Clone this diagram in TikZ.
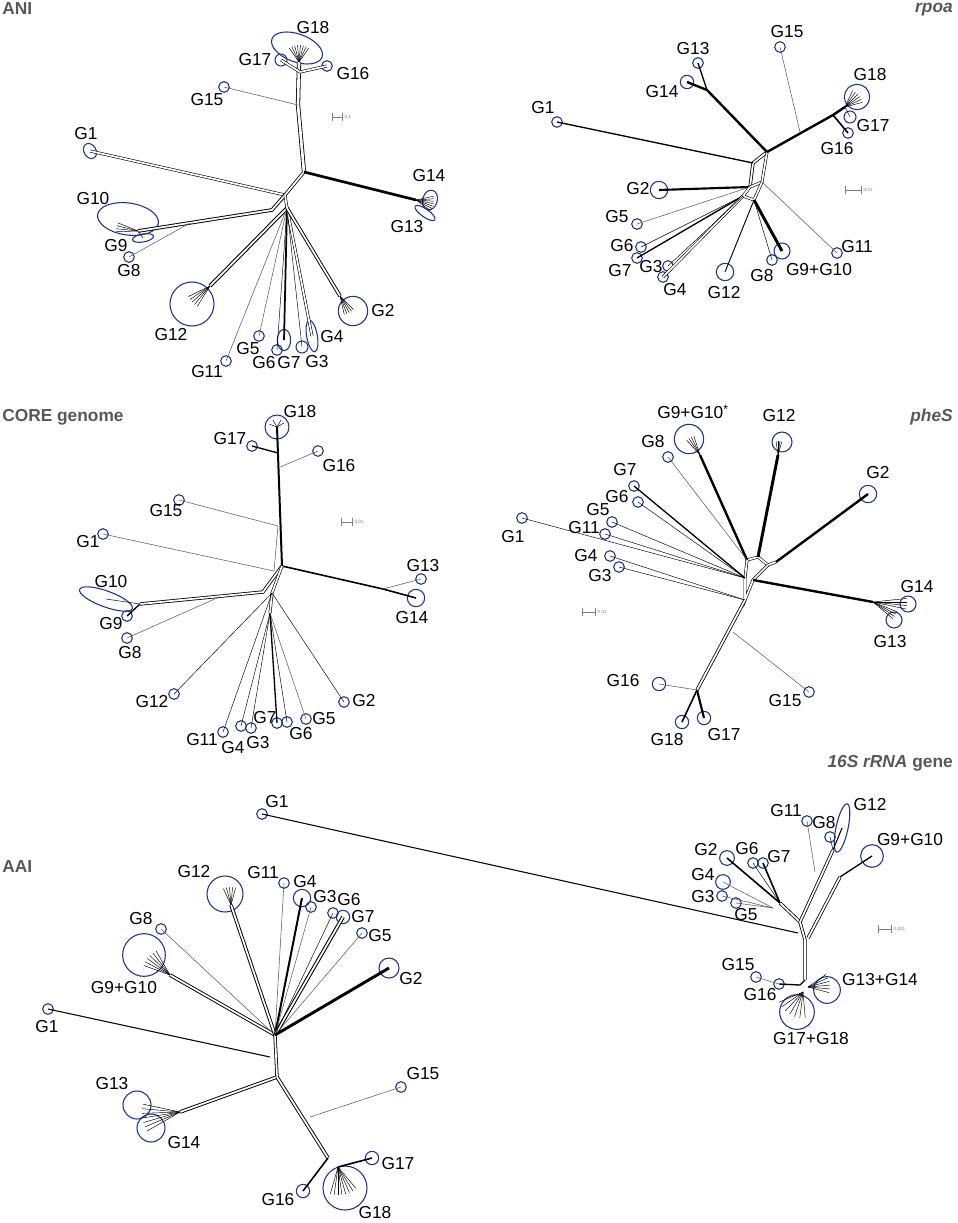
\documentclass[tikz,border=0pt]{standalone}
\usepackage{fontspec}
\setmainfont{Liberation Sans}
\usetikzlibrary{shapes.geometric}
\definecolor{tipblue}{RGB}{28,52,138}
\definecolor{ttlgray}{RGB}{88,88,88}

\begin{document}
\begin{tikzpicture}[x=0.75pt,y=0.75pt,yscale=-1,xscale=1,
  leaf/.style={circle,draw=tipblue,line width=0.8pt,inner sep=0pt,minimum size=#1},
  leaf/.default=8pt,
  oval/.style={ellipse,draw=tipblue,line width=0.8pt,inner sep=0pt},
  lab/.style={font=\fontsize{13}{15}\selectfont,inner sep=0pt},
  ttl/.style={font=\fontsize{13}{15}\selectfont\bfseries,text=ttlgray,inner sep=0pt},
  wire/.style={draw=black!65,line width=0.4pt},
  pair/.style={draw=black,line width=0.45pt,double=white,double distance=1.3pt},
  heavy/.style={draw=black,line width=1.5pt},
  twig/.style={draw=black,line width=0.35pt},
  bar/.style={draw=black!50,line width=0.4pt,|-|},
  tiny/.style={font=\fontsize{3.5}{4}\selectfont,text=black!50,inner sep=1pt}]
\useasboundingbox (0,0) rectangle (957,1223);

%%%%%%%%%%%%%%%%%%%% ANI
\node[ttl,anchor=west] (tani) at (2,9) {ANI};
\coordinate (aT) at (299,62);
\coordinate (aQ) at (300,72);
\coordinate (aS) at (298,105);
\coordinate (aH) at (304,172);
\coordinate (aC) at (285,195);
\coordinate (aL) at (272,210);
\coordinate (aB) at (287,208);
\coordinate (aK) at (416,200);
\coordinate (aW) at (138,231);
\coordinate (aE) at (190,223);
\coordinate (aG) at (210,286);
\coordinate (aR) at (340,296);

% tips
\node[oval,minimum width=40pt,minimum height=21pt,rotate=-20] (a18) at (297,48) {};
\node[leaf=9pt] (a17) at (281,60) {};
\node[leaf] (a16) at (327,66) {};
\node[leaf] (a15) at (224,87) {};
\node[oval,minimum width=9pt,minimum height=12pt,rotate=30] (a1) at (90,151) {};
\node[oval,minimum width=11pt,minimum height=15pt,rotate=-15] (a14) at (430,200) {};
\node[oval,minimum width=18pt,minimum height=6pt,rotate=-35] (a13) at (425,213) {};
\node[oval,minimum width=46pt,minimum height=24pt,rotate=-8] (a10) at (128,219) {};
\node[oval,minimum width=16pt,minimum height=6pt,rotate=10] (a9) at (143,238) {};
\node[leaf] (a8) at (129,257) {};
\node[leaf=33pt] (a12) at (192,304) {};
\node[leaf] (a11) at (226,361) {};
\node[leaf] (a5) at (259,336) {};
\node[leaf] (a6) at (277,350) {};
\node[oval,minimum width=10pt,minimum height=16pt] (a7) at (284,340) {};
\node[leaf=9pt] (a3) at (302,347) {};
\node[oval,minimum width=8pt,minimum height=24pt,rotate=10] (a4) at (312,336) {};
\node[leaf=22pt] (a2) at (353,311) {};

% branches
\draw[pair,line width=0.6pt] (aC) -- (aH);
\draw[pair,line width=0.6pt,double distance=2pt] (aH) -- (aS) -- (aT);
\foreach \a in {235,245,...,305} \draw[twig] (aT) -- +(\a:17);
\draw[pair] (aQ) -- (a17.center);
\draw[pair] (aQ) -- (a16.center);
\draw[wire] (aS) -- (a15.center);
\draw[pair] (aC) -- (a1.center);
\draw[heavy,line width=2pt] (aH) -- (aK);
\foreach \a in {-12,-4,...,36} \draw[twig] (aK) -- +(\a:18);
\draw[pair,line width=0.7pt] (aC) -- (aL) -- (aW);
\foreach \a in {178,186,...,202} \draw[twig] (aW) -- +(\a:22);
\draw[twig] (aW) -- (a9.center);
\draw[wire] (aE) -- (a8.center);
\draw[pair,line width=0.8pt] (aB) -- (aG);
\foreach \a in {122,130,...,154} \draw[twig] (aG) -- +(\a:24);
\draw[wire] (aB) -- (a11.center);
\draw[wire] (aB) -- (a5.center);
\draw[heavy,line width=1.3pt] (aB) -- (a7.center);
\draw[twig] (aB) -- (a6.center);
\draw[pair] (aB) -- (a4.center);
\draw[twig] (aB) -- (a3.center);
\draw[pair,line width=0.7pt] (aB) -- (aR);
\foreach \a in {45,53,...,77} \draw[twig] (aR) -- +(\a:19);
\draw[pair] (aC) -- (aB);

% labels
\node[lab] (la18) at (313,28) {G18};
\node[lab] (la17) at (255,60) {G17};
\node[lab] (la16) at (353,74) {G16};
\node[lab] (la15) at (207,100) {G15};
\node[lab] (la1) at (86,134) {G1};
\node[lab] (la14) at (429,176) {G14};
\node[lab] (la13) at (407,227) {G13};
\node[lab] (la10) at (93,199) {G10};
\node[lab] (la9) at (116,246) {G9};
\node[lab] (la8) at (129,271) {G8};
\node[lab] (la12) at (171,335) {G12};
\node[lab] (la5) at (248,349) {G5};
\node[lab] (la11) at (207,372) {G11};
\node[lab] (la6) at (264,363) {G6};
\node[lab] (la7) at (289,363) {G7};
\node[lab] (la3) at (317,362) {G3};
\node[lab] (la4) at (332,337) {G4};
\node[lab] (la2) at (383,311) {G2};
\coordinate (abar1) at (332,117);
\coordinate (abar2) at (343,117);
\draw[bar] (abar1) -- (abar2) node[tiny,right] (asc) {0.1};

%%%%%%%%%%%%%%%%%%%% rpoa
\node[ttl,anchor=east] (trpoa) at (953,10) {\itshape rpoa};
\coordinate (rH) at (767,152);
\coordinate (rM) at (753,163);
\coordinate (rL) at (750,187);
\coordinate (rJ) at (707,90);
\coordinate (rK) at (833,115);
\coordinate (rN) at (845,107);
\coordinate (rS) at (800,132);
\coordinate (rV) at (743,196);
\coordinate (rW) at (754,200);
\coordinate (rX) at (762,182);

\node[leaf] (r15) at (780,47) {};
\node[leaf] (r13) at (698,63) {};
\node[leaf=10pt] (r14) at (687,82) {};
\node[leaf=19pt] (r18) at (857,97) {};
\node[leaf=9pt] (r17) at (850,117) {};
\node[leaf] (r16) at (848,133) {};
\node[leaf] (r1) at (557,122) {};
\node[leaf=13pt] (r2) at (659,190) {};
\node[leaf] (r5) at (637,224) {};
\node[leaf] (r6) at (641,247) {};
\node[leaf] (r7) at (637,258) {};
\node[leaf] (r3) at (668,266) {};
\node[leaf] (r4) at (663,277) {};
\node[leaf=13pt] (r12) at (725,272) {};
\node[leaf] (r8) at (772,260) {};
\node[leaf=12pt] (r910) at (782,251) {};
\node[leaf] (r11) at (837,253) {};

\draw[pair,line width=0.6pt] (rL) -- (rM) -- (rH);
\draw[pair] (rL) -- (rX) -- (rH);
\draw[heavy,line width=1.8pt] (rH) -- (rJ) -- (r14.center);
\draw[heavy,line width=1pt] (rJ) -- (r13.center);
\draw[heavy,line width=1.8pt] (rH) -- (rK) -- (rN);
\foreach \a in {295,305,...,345} \draw[twig] (rN) -- +(\a:18);
\draw[heavy,line width=1.2pt] (rK) -- (r16.center);
\draw[twig] (rN) -- (r17.center);
\draw[wire] (rS) -- (r15.center);
\draw[heavy,line width=1pt] (rM) -- (r1.center);
\draw[heavy,line width=1.6pt] (rL) -- (r2.center);
\draw[wire] (rL) -- (r5.center);
\draw[pair] (rL) -- (rV) -- (rW) -- (rX);
\draw[heavy,line width=1pt] (rV) -- (r7.center);
\draw[twig] (rV) -- (r6.center);
\draw[pair] (rV) -- (r4.center);
\draw[twig] (rV) -- (r3.center);
\draw[heavy,line width=0.7pt] (rW) -- (r12.center);
\draw[heavy,line width=2.2pt] (rW) -- (r910.center);
\draw[twig] (rW) -- (r8.center);
\draw[wire] (rX) -- (r11.center);

\node[lab] (lr15) at (787,32) {G15};
\node[lab] (lr13) at (693,49) {G13};
\node[lab] (lr14) at (662,92) {G14};
\node[lab] (lr18) at (870,75) {G18};
\node[lab] (lr17) at (873,126) {G17};
\node[lab] (lr16) at (837,149) {G16};
\node[lab] (lr1) at (543,108) {G1};
\node[lab] (lr2) at (638,189) {G2};
\node[lab] (lr5) at (617,217) {G5};
\node[lab] (lr6) at (622,246) {G6};
\node[lab] (lr7) at (620,271) {G7};
\node[lab] (lr3) at (651,267) {G3};
\node[lab] (lr4) at (675,290) {G4};
\node[lab] (lr12) at (724,293) {G12};
\node[lab] (lr8) at (762,276) {G8};
\node[lab] (lr910) at (819,270) {G9+G10};
\node[lab] (lr11) at (857,247) {G11};
\coordinate (rbar1) at (845,190);
\coordinate (rbar2) at (862,190);
\draw[bar] (rbar1) -- (rbar2) node[tiny,right] (rsc) {0.01};

%%%%%%%%%%%%%%%%%%%% CORE genome
\node[ttl,anchor=west] (tcore) at (2,417) {CORE genome};
\coordinate (cH) at (282,566);
\coordinate (cA) at (278,453);
\coordinate (cD) at (280,467);
\coordinate (cE) at (278,526);
\coordinate (cF) at (274,571);
\coordinate (cK) at (383,589);
\coordinate (cW) at (140,604);
\coordinate (cL) at (263,592);
\coordinate (cG) at (217,598);
\coordinate (cB) at (272,593);
\coordinate (cP) at (270,613);

\node[leaf=18pt] (c18) at (277,427) {};
\node[leaf] (c17) at (252,446) {};
\node[leaf] (c16) at (318,451) {};
\node[leaf] (c15) at (179,500) {};
\node[leaf] (c1) at (103,534) {};
\node[leaf] (c13) at (421,579) {};
\node[leaf=13pt] (c14) at (416,598) {};
\node[oval,minimum width=42pt,minimum height=12pt,rotate=-20] (c10) at (106,599) {};
\node[leaf] (c9) at (127,616) {};
\node[leaf] (c8) at (127,638) {};
\node[leaf] (c12) at (174,694) {};
\node[leaf] (c11) at (223,732) {};
\node[leaf] (c4) at (241,726) {};
\node[leaf] (c3) at (251,728) {};
\node[leaf] (c7) at (277,723) {};
\node[leaf] (c6) at (287,722) {};
\node[leaf] (c5) at (306,719) {};
\node[leaf] (c2) at (344,702) {};

\draw[heavy,line width=1.5pt] (cH) -- (c18.center);
\draw[wire] (cE) -- (cF);
\foreach \a in {200,240,300,330} \draw[twig] (c18.center) -- +(\a:8);
\draw[heavy,line width=1pt] (cA) -- (c17.center);
\draw[wire] (cD) -- (c16.center);
\draw[wire] (cE) -- (c15.center);
\draw[wire] (cF) -- (c1.center);
\draw[heavy,line width=1.2pt] (cH) -- (cK) -- (c14.center);
\draw[wire] (cK) -- (c13.center);
\draw[pair,line width=0.6pt] (cH) -- (cL) -- (cW);
\draw[heavy,line width=1pt] (cW) -- (c9.center);
\draw[twig] (cW) -- (c10.center);
\draw[wire] (cG) -- (c8.center);
\draw[pair] (cH) -- (cB) -- (cP);
\draw[twig] (cB) -- (c12.center);
\draw[twig] (cB) -- (c11.center);
\draw[twig] (cP) -- (c4.center);
\draw[twig] (cP) -- (c3.center);
\draw[heavy,line width=1pt] (cP) -- (c7.center);
\draw[twig] (cP) -- (c6.center);
\draw[wire] (cP) -- (c5.center);
\draw[twig] (cB) -- (c2.center);

\node[lab] (lc18) at (300,412) {G18};
\node[lab] (lc17) at (230,439) {G17};
\node[lab] (lc16) at (339,466) {G16};
\node[lab] (lc15) at (166,511) {G15};
\node[lab] (lc1) at (88,542) {G1};
\node[lab] (lc13) at (423,566) {G13};
\node[lab] (lc14) at (412,618) {G14};
\node[lab] (lc10) at (111,582) {G10};
\node[lab] (lc9) at (111,624) {G9};
\node[lab] (lc8) at (130,653) {G8};
\node[lab] (lc12) at (152,702) {G12};
\node[lab] (lc11) at (202,740) {G11};
\node[lab] (lc4) at (233,748) {G4};
\node[lab] (lc3) at (258,743) {G3};
\node[lab] (lc7) at (265,718) {G7};
\node[lab] (lc6) at (301,734) {G6};
\node[lab] (lc5) at (324,719) {G5};
\node[lab] (lc2) at (364,701) {G2};
\coordinate (cbar1) at (341,522);
\coordinate (cbar2) at (353,522);
\draw[bar] (cbar1) -- (cbar2) node[tiny,right] (csc) {0.01};

%%%%%%%%%%%%%%%%%%%% pheS
\node[ttl,anchor=east] (tphes) at (953,417) {\itshape pheS};
\coordinate (pH) at (753,580);
\coordinate (pU) at (768,565);
\coordinate (pA) at (747,560);
\coordinate (pC) at (758,557);
\coordinate (pE) at (776,562);
\coordinate (pT) at (745,578);
\coordinate (pK) at (873,602);
\coordinate (pD) at (745,600);
\coordinate (pM) at (733,632);
\coordinate (pN) at (697,690);
\coordinate (pF) at (700,455);
\coordinate (pG) at (778,455);

\node[leaf=22pt] (p910) at (689,439) {};
\node[leaf=15pt] (p12) at (782,442) {};
\node[leaf] (p8) at (668,457) {};
\node[leaf=13pt] (p2) at (868,494) {};
\node[leaf] (p7) at (634,486) {};
\node[leaf] (p6) at (638,502) {};
\node[leaf] (p5) at (612,522) {};
\node[leaf] (p11) at (605,534) {};
\node[leaf] (p1) at (522,518) {};
\node[leaf] (p4) at (610,556) {};
\node[leaf] (p3) at (619,567) {};
\node[leaf=12pt] (p14) at (908,604) {};
\node[leaf=12pt] (p13) at (894,620) {};
\node[leaf=10pt] (p16) at (659,684) {};
\node[leaf] (p15) at (809,692) {};
\node[leaf=10pt] (p18) at (682,722) {};
\node[leaf=10pt] (p17) at (704,718) {};

\draw[pair] (pT) -- (pA) -- (pC) -- (pU) -- (pE);
\draw[pair] (pU) -- (pH) -- (pD) -- (pT);
\draw[heavy,line width=1.8pt] (pA) -- (pF);
\foreach \a in {228,236,...,252} \draw[twig] (pF) -- +(\a:20);
\draw[wire] (pA) -- (p8.center);
\draw[heavy,line width=2.2pt] (pC) -- (pG);
\foreach \a in {262,270,...,286} \draw[twig] (pG) -- +(\a:14);
\draw[heavy,line width=1.8pt] (pE) -- (p2.center);
\draw[heavy,line width=1pt] (pT) -- (p7.center);
\draw[twig] (pT) -- (p6.center);
\draw[twig] (pT) -- (p5.center);
\draw[twig] (pT) -- (p11.center);
\draw[twig] (pT) -- (p1.center);
\draw[twig] (pD) -- (p4.center);
\draw[twig] (pD) -- (p3.center);
\draw[heavy,line width=1.8pt] (pH) -- (pK);
\foreach \a in {-6,0,...,12} \draw[twig] (pK) -- +(\a:34);
\foreach \a in {22,28,...,40} \draw[twig] (pK) -- +(\a:26);
\draw[pair,line width=0.6pt] (pD) -- (pN);
\draw[heavy,line width=1.2pt] (pN) -- (p18.center);
\draw[heavy,line width=1.6pt] (pN) -- (p17.center);
\draw[wire] (pN) -- (p16.center);
\draw[wire] (pM) -- (p15.center);

\node[lab,anchor=west] (lp910) at (657,412) {G9+G10\textsuperscript{*}};
\node[lab] (lp12) at (779,416) {G12};
\node[lab] (lp8) at (653,442) {G8};
\node[lab] (lp2) at (878,473) {G2};
\node[lab] (lp7) at (625,470) {G7};
\node[lab] (lp6) at (617,497) {G6};
\node[lab] (lp5) at (598,510) {G5};
\node[lab] (lp11) at (584,528) {G11};
\node[lab] (lp1) at (513,537) {G1};
\node[lab] (lp4) at (586,556) {G4};
\node[lab] (lp3) at (600,576) {G3};
\node[lab] (lp14) at (917,587) {G14};
\node[lab] (lp13) at (890,642) {G13};
\node[lab] (lp16) at (623,681) {G16};
\node[lab] (lp15) at (785,701) {G15};
\node[lab] (lp18) at (667,740) {G18};
\node[lab] (lp17) at (724,735) {G17};
\coordinate (pbar1) at (582,612);
\coordinate (pbar2) at (596,612);
\draw[bar] (pbar1) -- (pbar2) node[tiny,right] (psc) {0.01};

%%%%%%%%%%%%%%%%%%%% AAI
\node[ttl,anchor=west] (taai) at (2,867) {AAI};
\coordinate (qU) at (275,1035);
\coordinate (qL) at (277,1077);
\coordinate (qG) at (270,1057);
\coordinate (qK) at (180,1112);
\coordinate (qS) at (310,1117);
\coordinate (qR) at (328,1158);
\coordinate (qV) at (338,1167);
\coordinate (qA) at (170,975);
\coordinate (qB) at (231,905);

\node[leaf=27pt] (q12) at (225,894) {};
\node[leaf] (q11) at (284,883) {};
\node[leaf=13pt] (q4) at (302,898) {};
\node[leaf] (q3) at (311,907) {};
\node[leaf] (q6) at (333,913) {};
\node[leaf=10pt] (q7) at (343,917) {};
\node[leaf] (q5) at (362,933) {};
\node[leaf=15pt] (q2) at (389,968) {};
\node[leaf] (q8) at (161,929) {};
\node[leaf=32pt] (q910) at (144,955) {};
\node[leaf] (q1) at (48,1009) {};
\node[leaf=21pt] (q13) at (137,1105) {};
\node[leaf=21pt] (q14) at (151,1128) {};
\node[leaf] (q15) at (401,1087) {};
\node[leaf=10pt] (q17) at (372,1158) {};
\node[leaf=10pt] (q16) at (303,1191) {};
\node[leaf=33pt] (q18) at (345,1188) {};

\draw[pair,line width=0.6pt] (qU) -- (qL);
\draw[pair,line width=0.7pt] (qU) -- (qA);
\foreach \a in {200,208,...,240} \draw[twig] (qA) -- +(\a:28);
\draw[wire] (qU) -- (q8.center);
\draw[pair,line width=0.7pt] (qU) -- (qB);
\foreach \a in {245,255,...,285} \draw[twig] (qB) -- +(\a:18);
\draw[wire] (qU) -- (q11.center);
\draw[heavy,line width=1.5pt] (qU) -- (q4.center);
\draw[wire] (qU) -- (q3.center);
\draw[pair,line width=0.8pt] (qU) -- (q7.center);
\draw[twig] (qU) -- (q6.center);
\draw[wire] (qU) -- (q5.center);
\draw[heavy,line width=2.2pt] (qU) -- (q2.center);
\draw[heavy,line width=0.8pt] (qG) -- (q1.center);
\draw[pair,line width=0.7pt] (qL) -- (qK);
\foreach \a in {150,157,...,196} \draw[twig] (qK) -- +(\a:38);
\draw[pair,line width=0.7pt] (qL) -- (qR);
\draw[wire] (qS) -- (q15.center);
\draw[heavy,line width=1.2pt] (qR) -- (q16.center);
\draw[heavy,line width=1.2pt] (qV) -- (q17.center);
\foreach \a in {50,58,...,106} \draw[twig] (qV) -- +(\a:28);

\node[lab] (lq12) at (194,872) {G12};
\node[lab] (lq11) at (263,873) {G11};
\node[lab] (lq4) at (305,882) {G4};
\node[lab] (lq3) at (325,897) {G3};
\node[lab] (lq6) at (349,900) {G6};
\node[lab] (lq7) at (363,917) {G7};
\node[lab] (lq5) at (380,936) {G5};
\node[lab] (lq2) at (411,979) {G2};
\node[lab] (lq8) at (141,919) {G8};
\node[lab] (lq910) at (124,988) {G9+G10};
\node[lab] (lq1) at (47,1027) {G1};
\node[lab] (lq13) at (112,1084) {G13};
\node[lab] (lq14) at (184,1143) {G14};
\node[lab] (lq15) at (423,1074) {G15};
\node[lab] (lq17) at (398,1164) {G17};
\node[lab] (lq16) at (278,1200) {G16};
\node[lab] (lq18) at (375,1213) {G18};

%%%%%%%%%%%%%%%%%%%% 16S rRNA gene
\node[ttl,anchor=east] (t16s) at (953,763) {{\itshape 16S rRNA} gene};
\coordinate (sH) at (800,922);
\coordinate (sL) at (805,940);
\coordinate (sB) at (805,980);
\coordinate (sA) at (780,903);
\coordinate (sQ) at (773,908);
\coordinate (sC) at (833,850);
\coordinate (sD) at (815,872);
\coordinate (sE) at (808,938);
\coordinate (sF) at (840,877);
\coordinate (sG) at (798,933);
\coordinate (sP) at (800,985);
\coordinate (sR) at (808,987);
\coordinate (sT) at (803,992);

\node[leaf] (s1) at (262,814) {};
\node[leaf] (s11) at (807,821) {};
\node[leaf] (s8) at (830,837) {};
\node[oval,minimum width=9pt,minimum height=37pt,rotate=-12] (s12) at (842,828) {};
\node[leaf=17pt] (s910) at (872,856) {};
\node[leaf=11pt] (s2) at (727,858) {};
\node[leaf] (s6) at (753,863) {};
\node[leaf] (s7) at (763,863) {};
\node[leaf=11pt] (s4) at (723,882) {};
\node[leaf] (s3) at (722,896) {};
\node[leaf] (s5) at (736,903) {};
\node[leaf] (s15) at (756,977) {};
\node[leaf] (s16) at (779,984) {};
\node[leaf=20pt] (s1314) at (827,990) {};
\node[leaf=26pt] (s1718) at (797,1012) {};

\draw[heavy,line width=0.8pt] (sG) -- (s1.center);
\draw[pair,line width=0.6pt] (sH) -- (sA);
\draw[heavy,line width=1.2pt] (sA) -- (s2.center);
\draw[heavy,line width=1.2pt] (sA) -- (s7.center);
\draw[twig] (sA) -- (s6.center);
\draw[wire] (sQ) -- (s4.center);
\draw[wire] (sQ) -- (s3.center);
\draw[wire] (sQ) -- (s5.center);
\draw[pair,line width=0.6pt] (sH) -- (sC);
\draw[heavy,line width=0.8pt] (sC) -- (s12.center);
\draw[twig] (sC) -- (s8.center);
\draw[wire] (sD) -- (s11.center);
\draw[pair,line width=0.6pt] (sE) -- (sF);
\draw[heavy,line width=1pt] (sF) -- (s910.center);
\draw[pair,line width=0.6pt] (sH) -- (sL) -- (sB);
\draw[heavy,line width=1pt] (sB) -- (sP) -- (s16.center);
\draw[wire] (s16.center) -- (s15.center);
\foreach \a in {-35,-25,...,15} \draw[twig] (sR) -- +(\a:22);
\foreach \a in {85,97,...,157} \draw[twig] (sT) -- +(\a:26);

\node[lab] (ls1) at (277,802) {G1};
\node[lab] (ls11) at (786,811) {G11};
\node[lab] (ls8) at (824,823) {G8};
\node[lab] (ls12) at (870,805) {G12};
\node[lab] (ls910) at (910,840) {G9+G10};
\node[lab] (ls2) at (706,850) {G2};
\node[lab] (ls6) at (747,849) {G6};
\node[lab] (ls7) at (779,857) {G7};
\node[lab] (ls4) at (703,875) {G4};
\node[lab] (ls3) at (703,897) {G3};
\node[lab] (ls5) at (746,915) {G5};
\node[lab] (ls15) at (738,965) {G15};
\node[lab] (ls16) at (760,995) {G16};
\node[lab] (ls1314) at (880,980) {G13+G14};
\node[lab] (ls1718) at (811,1039) {G17+G18};
\coordinate (sbar1) at (878,929);
\coordinate (sbar2) at (892,929);
\draw[bar] (sbar1) -- (sbar2) node[tiny,right] (ssc) {0.001};

\end{tikzpicture}
\end{document}
